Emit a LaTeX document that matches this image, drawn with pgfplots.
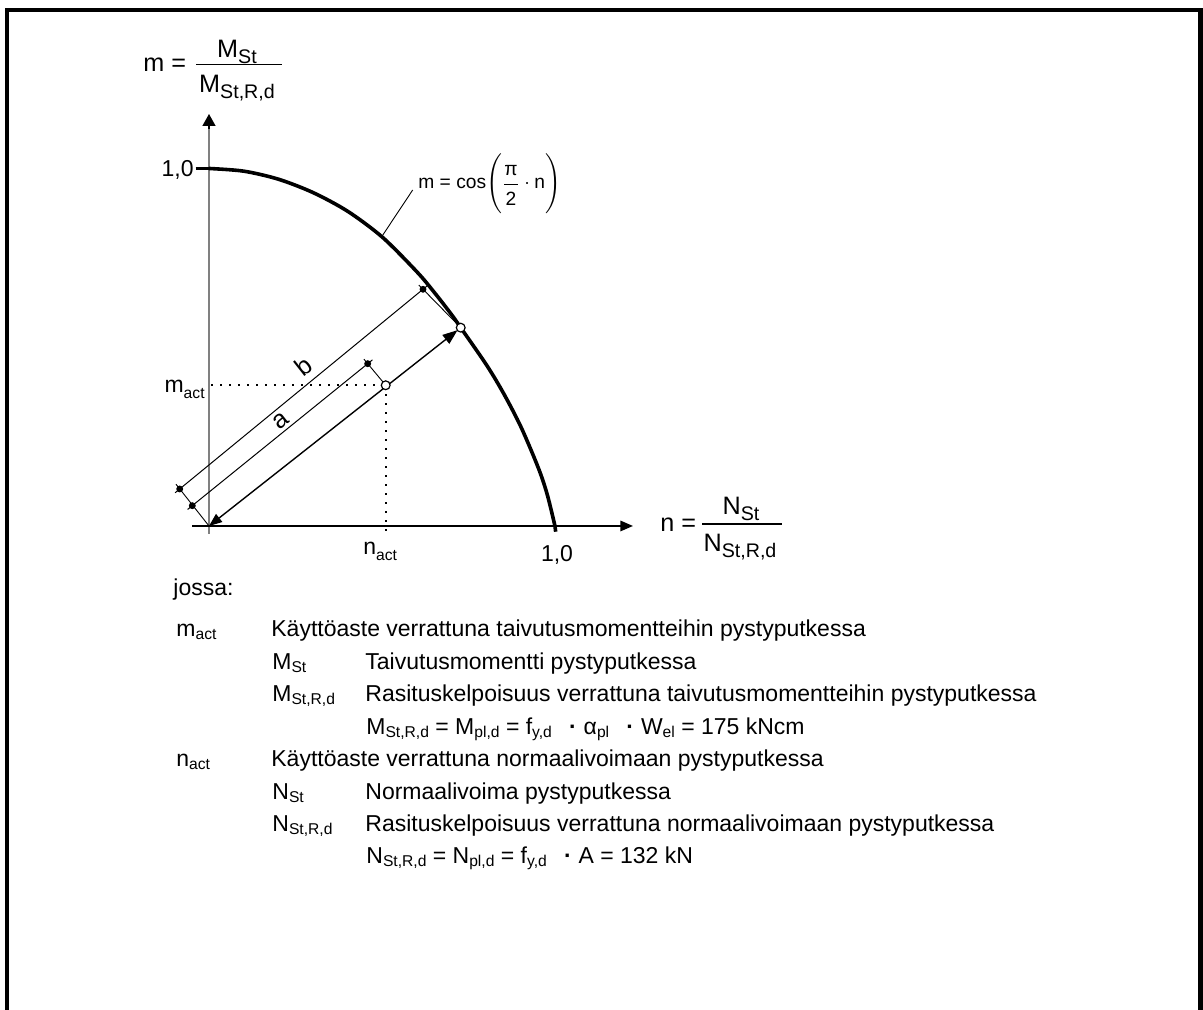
\documentclass[border=0pt]{standalone}
\usepackage{fontspec}
\setmainfont{Liberation Sans}
\usepackage{amsmath}
\usepackage{graphicx}
\usepackage{pgfplots}
\pgfplotsset{compat=1.18}
\usetikzlibrary{arrows.meta}

% subscripts: explanation text, chart labels, fraction labels
\newcommand\sub[1]{\raisebox{-0.12em}{\scalebox{0.68}{#1}}}
\newcommand\subc[1]{\raisebox{-0.25em}{\scalebox{0.68}{#1}}}
\newcommand\subf[1]{\raisebox{-0.2em}{\scalebox{0.78}{#1}}}
\newcommand\mdot{\hspace{0.75em}\textbf{·}\hspace{0.3em}}
\newcommand\fA{\fontsize{11.5}{13}\selectfont}
\newcommand\fB{\fontsize{12.6}{15}\selectfont}
\newcommand\fC{\fontsize{9.6}{11}\selectfont}

\begin{document}
\begin{tikzpicture}
\useasboundingbox (0,0) rectangle (601.5pt,505pt);
\begin{axis}[
  at={(0,0)}, anchor=south west,
  scale only axis, width=601.5pt, height=505pt,
  xmin=-0.602305, xmax=2.864553,
  ymin=-1.353846, ymax=1.471329,
  hide axis, clip=false,
]
% axes
\draw[line width=0.7pt, color=gray] (axis cs:0,-0.022) -- (axis cs:0,1.12);
\draw[line width=0.7pt, -{Triangle[length=6pt,width=6.5pt]}] (axis cs:0,1.11) -- (axis cs:0,1.1524);
\draw[line width=0.9pt, -{Triangle[length=6.3pt,width=5.2pt]}] (axis cs:-0.049,0) -- (axis cs:1.2219,0);

% interaction curve
\addplot[line width=1.8pt, smooth, tension=0.5] coordinates {
  (0.000,1.000) (0.100,0.9925) (0.200,0.970) (0.300,0.9325) (0.400,0.880)
  (0.500,0.8075) (0.600,0.710) (0.650,0.6525) (0.700,0.590) (0.7254,0.5547)
  (0.800,0.450) (0.850,0.369) (0.900,0.275) (0.950,0.160) (0.975,0.087)
  (0.997,0.000)
};
\addplot[line width=1.8pt] coordinates {(-0.0386,1) (0,1)};
\addplot[line width=1.8pt] coordinates {(0.997,0) (0.999,-0.016)};

% dotted helper lines
\addplot[line width=1pt, dash pattern=on 1pt off 3.5pt] coordinates {(0.006,0.3936) (0.5092,0.3936)};
\addplot[line width=1pt, dash pattern=on 1pt off 3.5pt] coordinates {(0.5092,0.3936) (0.5092,-0.017)};

% dimension arrow
\addplot[line width=0.7pt, shorten >=2pt,
  {Triangle[length=6.5pt,width=5pt]}-{Triangle[length=7.5pt,width=5.5pt]}]
  coordinates {(0,0) (0.7254,0.5547)};

% extension lines
\addplot[line width=0.45pt] coordinates {(0,0) (-0.0951,0.1168)};
\addplot[line width=0.45pt] coordinates {(0.5092,0.3936) (0.4464,0.4668)};
\addplot[line width=0.45pt] coordinates {(0.7254,0.5547) (0.6046,0.6741)};
% dimension lines a, b
\addplot[line width=0.5pt] coordinates {(-0.0617,0.0462) (0.4709,0.4646)};
\addplot[line width=0.5pt] coordinates {(-0.0977,0.0929) (0.6300,0.6727)};
\addplot[only marks, mark=*, mark size=1.5pt] coordinates {
  (-0.0481,0.0568) (0.4573,0.4540) (-0.0844,0.1035) (0.6167,0.6621)};
\addplot[only marks, mark=*, mark size=2.2pt,
  mark options={fill=white, draw=black, line width=0.6pt}]
  coordinates {(0.7254,0.5547) (0.5092,0.3936)};
\end{axis}

\begin{scope}[shift={(0,505pt)}, x=0.5pt, y=-0.5pt]
% frame
\draw[line width=2.25pt, miter limit=10] (7.2,1100) -- (7.2,10) -- (1200.5,10) -- (1200.5,1100);

% axis labels
\node[anchor=base west, inner sep=0, font=\fB] at (143,72) {m =};
\node[anchor=base, inner sep=0, font=\fB] at (237,58) {M\subf{St}};
\draw[line width=0.6pt] (196,64.5) -- (282,64.5);
\node[anchor=base, inner sep=0, font=\fB] at (237,93) {M\subf{St,R,d}};

\node[anchor=base west, inner sep=0, font=\fB] at (660,532) {n =};
\node[anchor=base, inner sep=0, font=\fB] at (741,515) {N\subf{St}};
\draw[line width=0.6pt] (702,524) -- (782,524);
\node[anchor=base, inner sep=0, font=\fB] at (740,552) {N\subf{St,R,d}};

\node[anchor=base east, inner sep=0, font=\fA] at (194,176.5) {1,0};
\node[anchor=base, inner sep=0, font=\fA] at (557,561.5) {1,0};
\node[anchor=base east, inner sep=0, font=\fA] at (205,393) {m\subc{act}};
\node[anchor=base west, inner sep=0, font=\fA] at (363,555) {n\subc{act}};
\node[rotate=38.2, inner sep=0, font=\fB] at (303,366) {b};
\node[rotate=38.2, inner sep=0, font=\fB] at (281,421) {a};

\draw[line width=0.45pt] (412.7,190) -- (381.7,236.7);
\node[anchor=west, inner sep=0, font=\fC] at (418,184)
  {m = cos$\Biggl(\dfrac{\text{π}\rule[-2.5pt]{0pt}{2.5pt}}{\text{2}\rule{0pt}{9.5pt}}\cdot\text{n}\Biggr)$};

% explanation
\begin{scope}[every node/.style={anchor=base west, inner sep=0, font=\fA}]
\node at (173,596) {jossa:};
\node at (176,637) {m\sub{act}};
\node at (271,637) {Käyttöaste verrattuna taivutusmomentteihin pystyputkessa};
\node at (272,670) {M\sub{St}};
\node at (365,670) {Taivutusmomentti pystyputkessa};
\node at (272,702) {M\sub{St,R,d}};
\node at (365,702) {Rasituskelpoisuus verrattuna taivutusmomentteihin pystyputkessa};
\node at (366,735) {M\sub{St,R,d} = M\sub{pl,d} = f\sub{y,d}\mdot α\sub{pl}\mdot W\sub{el} = 175 kNcm};
\node at (176,767) {n\sub{act}};
\node at (271,767) {Käyttöaste verrattuna normaalivoimaan pystyputkessa};
\node at (272,800) {N\sub{St}};
\node at (365,800) {Normaalivoima pystyputkessa};
\node at (272,832) {N\sub{St,R,d}};
\node at (365,832) {Rasituskelpoisuus verrattuna normaalivoimaan pystyputkessa};
\node at (366,864) {N\sub{St,R,d} = N\sub{pl,d} = f\sub{y,d}\mdot A = 132 kN};
\end{scope}
\end{scope}
\end{tikzpicture}
\end{document}
